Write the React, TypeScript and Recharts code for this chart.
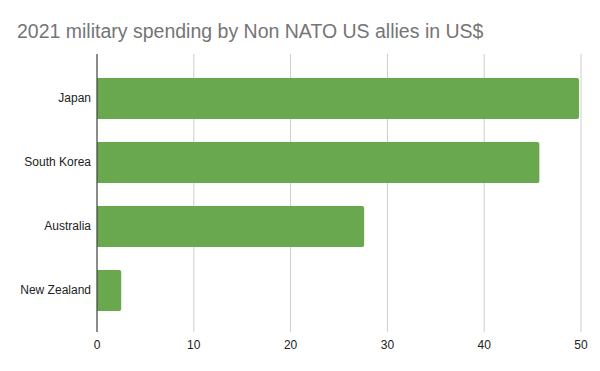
import { Bar, BarChart, CartesianGrid, XAxis, YAxis } from "recharts";

const countries = ["Japan", "South Korea", "Australia", "New Zealand"];
const spending = [49.8, 45.7, 27.6, 2.5];
const xTicks = [0, 10, 20, 30, 40, 50];

const data = countries.map((country, i) => ({ country, spending: spending[i] }));

export default function App() {
  return (
    <div
      style={{
        position: "absolute",
        left: 0,
        top: 0,
        width: 600,
        height: 371,
        background: "#fff",
        fontFamily: "'Liberation Sans', Arial, sans-serif",
      }}
    >
      <div
        style={{
          position: "absolute",
          left: 17,
          top: 20,
          fontSize: 19.5,
          color: "#757575",
          whiteSpace: "nowrap",
        }}
      >
        2021 military spending by Non NATO US allies in US$
      </div>
      <BarChart
        width={600}
        height={371}
        data={data}
        layout="vertical"
        margin={{ top: 54, right: 19, left: 0, bottom: 9 }}
      >
        <CartesianGrid horizontal={false} stroke="#cccccc" />
        <XAxis
          type="number"
          domain={[0, 50]}
          ticks={xTicks}
          axisLine={false}
          tickLine={false}
          height={30}
          tick={{ fill: "#222", fontSize: 12 }}
          tickMargin={2}
        />
        <YAxis
          type="category"
          dataKey="country"
          width={97}
          padding={{ top: 12, bottom: 10 }}
          axisLine={{ stroke: "#333" }}
          tickLine={false}
          tick={{ fill: "#222", fontSize: 12 }}
          tickMargin={0}
        />
        <Bar
          dataKey="spending"
          fill="#6aa84f"
          barSize={41}
          radius={[0, 2, 2, 0]}
          isAnimationActive={false}
        />
      </BarChart>
    </div>
  );
}
